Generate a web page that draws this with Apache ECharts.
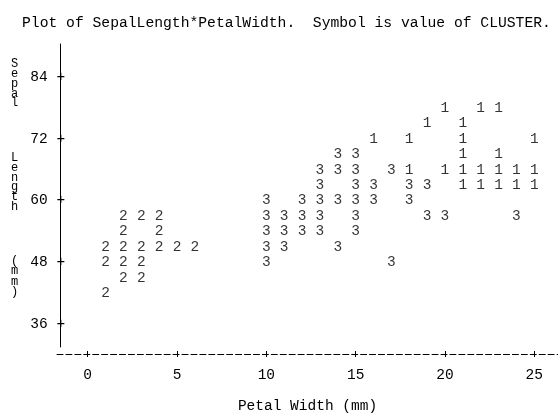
<!DOCTYPE html>
<html>
<head>
<meta charset="utf-8">
<script src="https://cdn.jsdelivr.net/npm/echarts@6/dist/echarts.min.js"></script>
<style>
html, body { margin: 0; padding: 0; background: #fff; }
#container { width: 558px; height: 419px; }
</style>
</head>
<body>
<div id="container"></div>
<script>
var mono = "'Liberation Mono', 'DejaVu Sans Mono', monospace";

// cluster 1 (petal width, sepal length row)
var width1  = [20, 22, 23, 19, 21, 16, 18, 21, 25, 21, 23, 18, 20, 21, 22, 23, 24, 25, 21, 22, 23, 24, 25];
var length1 = [78, 78, 78, 75, 75, 72, 72, 72, 72, 69, 69, 66, 66, 66, 66, 66, 66, 66, 63, 63, 63, 63, 63];
// cluster 2
var width2  = [2, 3, 4, 2, 4, 1, 2, 3, 4, 5, 6, 1, 2, 3, 2, 3, 1];
var length2 = [57, 57, 57, 54, 54, 51, 51, 51, 51, 51, 51, 48, 48, 48, 45, 45, 42];
// cluster 3
var width3  = [14, 15, 13, 14, 15, 17, 13, 15, 16, 18, 19, 10, 12, 13, 14, 15, 16, 18,
               10, 11, 12, 13, 15, 19, 20, 24, 10, 11, 12, 13, 15, 10, 11, 14, 10, 17];
var length3 = [69, 69, 66, 66, 66, 66, 63, 63, 63, 63, 63, 60, 60, 60, 60, 60, 60, 60,
               57, 57, 57, 57, 57, 57, 57, 57, 54, 54, 54, 54, 54, 51, 51, 51, 48, 48];

var xTicks = [0, 5, 10, 15, 20, 25];

function pairs(w, l) {
    return w.map(function (v, i) { return [v, l[i]]; });
}

function clusterSeries(name, data) {
    return {
        name: name,
        type: 'scatter',
        xAxisIndex: 0,
        yAxisIndex: 0,
        symbolSize: 0,
        data: data,
        label: {
            show: true,
            position: 'inside',
            formatter: name,
            color: '#000',
            fontFamily: mono,
            fontSize: 14.5
        }
    };
}

// same 17.86 px per unit in every grid
var xMinPlot = -1.512, xMinAxis = -1.72, xMax = 26.33;
var yMin = 31.52, yMax = 90.48;

var dom = document.getElementById('container');
var myChart = echarts.init(dom);

var option = {
    animation: false,
    backgroundColor: '#fff',
    title: {
        text: 'Plot of SepalLength*PetalWidth.  Symbol is value of CLUSTER.',
        left: 17,
        top: 11,
        textStyle: {
            color: '#000',
            fontWeight: 'normal',
            fontFamily: mono,
            fontSize: 14.7
        }
    },
    grid: [
        // plot area, the vertical rule is its left edge
        { left: 60.7, right: 0, top: 44, bottom: 72 },
        // 36..84 span for the y labels
        { left: 60.7, right: 0, top: 77.3, bottom: 95 },
        // dashed horizontal axis, starts a little left of the rule
        { left: 57, right: 0, top: 44, bottom: 65 }
    ],
    xAxis: [{
        type: 'value', gridIndex: 0, min: xMinPlot, max: xMax, show: false
    }, {
        type: 'value', gridIndex: 1, min: xMinPlot, max: xMax, show: false
    }, {
        type: 'value',
        gridIndex: 2,
        min: xMinAxis,
        max: xMax,
        position: 'bottom',
        axisLine: { show: true, onZero: false, lineStyle: { color: '#000', width: 1, type: [6, 2.93] } },
        axisTick: { show: true, length: 3, customValues: xTicks, lineStyle: { color: '#000' } },
        axisLabel: { customValues: xTicks, margin: 14, color: '#000', fontFamily: mono, fontSize: 14.5 },
        splitLine: { show: false },
        name: 'Petal Width (mm)',
        nameLocation: 'middle',
        nameGap: 45,
        nameTextStyle: { color: '#000', fontFamily: mono, fontSize: 14.5 }
    }, {
        // upper half of the '+' marks
        type: 'value',
        gridIndex: 2,
        min: xMinAxis,
        max: xMax,
        position: 'bottom',
        axisLine: { show: false, onZero: false },
        axisTick: { show: true, inside: true, length: 3, customValues: xTicks, lineStyle: { color: '#000' } },
        axisLabel: { show: false },
        splitLine: { show: false }
    }],
    yAxis: [{
        type: 'value',
        gridIndex: 0,
        min: yMin,
        max: yMax,
        position: 'left',
        axisLine: { show: true, onZero: false, lineStyle: { color: '#000', width: 1 } },
        axisTick: { show: false },
        axisLabel: { show: false },
        splitLine: { show: false }
    }, {
        // labels carry the printer style '+' that sits on the rule
        type: 'value',
        gridIndex: 1,
        min: 36,
        max: 84,
        interval: 12,
        position: 'left',
        axisLine: { show: false, onZero: false },
        axisTick: { show: false },
        axisLabel: {
            margin: -4.4,
            color: '#000',
            fontFamily: mono,
            fontSize: 14.5,
            formatter: function (v) { return v + ' +'; }
        },
        splitLine: { show: false }
    }, {
        type: 'value', gridIndex: 2, min: 0, max: 1, show: false
    }],
    // vertical y axis title, one letter per line
    graphic: [
        { type: 'text', left: 11, top: 58, style: { text: 'S\ne\np\na\nl', fill: '#000', font: '12px ' + mono, lineHeight: 9.8 } },
        { type: 'text', left: 11, top: 152, style: { text: 'L\ne\nn\ng\nt\nh', fill: '#000', font: '12px ' + mono, lineHeight: 9.7 } },
        { type: 'text', left: 11, top: 255, style: { text: '(\nm\nm\n)', fill: '#000', font: '12px ' + mono, lineHeight: 10.3 } }
    ],
    series: [
        clusterSeries('1', pairs(width1, length1)),
        clusterSeries('2', pairs(width2, length2)),
        clusterSeries('3', pairs(width3, length3))
    ]
};

myChart.setOption(option, true);
</script>
</body>
</html>
